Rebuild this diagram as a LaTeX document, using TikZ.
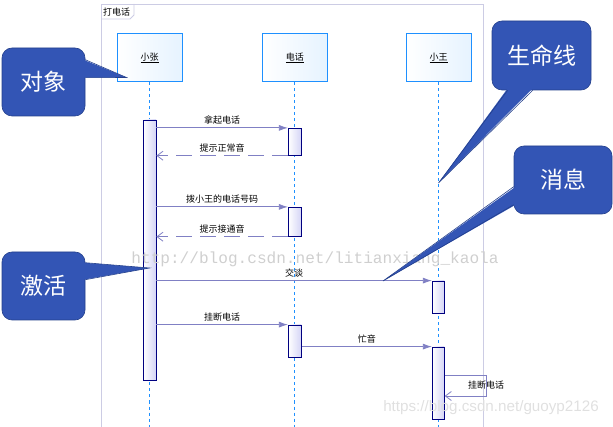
\documentclass[tikz,border=0pt]{standalone}
\usepackage{fontspec}
\newfontfamily\cjk{Noto Sans CJK SC}
\newfontfamily\wmmono{Liberation Mono}
\newfontfamily\wmsans{Liberation Sans}
\usetikzlibrary{arrows.meta,positioning}

\definecolor{lifeblue}{HTML}{1E90FF}
\definecolor{msgline}{HTML}{8080C4}
\definecolor{actborder}{HTML}{000080}
\definecolor{actfill}{HTML}{D4D4F6}
\definecolor{headfill}{HTML}{E6F3FF}
\definecolor{bubblefill}{HTML}{3355B5}
\definecolor{bubbleedge}{HTML}{24408C}
\definecolor{framegray}{HTML}{CCCCE4}

\begin{document}
\begin{tikzpicture}[
  x=1pt, y=-1pt,
  >={Latex[length=9pt,width=6pt]},
  font=\cjk\fontsize{9}{10}\selectfont,
  head/.style={draw=lifeblue, line width=1pt, left color=white, right color=headfill,
    minimum width=65pt, minimum height=48pt, inner sep=0pt},
  act/.style={draw=actborder, line width=0.8pt, left color=white, right color=actfill,
    minimum width=13pt, inner sep=0pt},
  lifeline/.style={draw=lifeblue, line width=0.8pt, dash pattern=on 3pt off 3pt},
  call/.style={->, draw=msgline, line width=0.8pt},
  reply/.style={-{Straight Barb[length=6pt,width=9pt]}, draw=msgline, line width=0.8pt,
    dash pattern=on 16pt off 8pt},
  msglabel/.style={above=2pt, inner sep=1pt},
  bubble/.style={fill=bubblefill, draw=bubbleedge, line width=0.6pt, rounded corners=10pt,
    text=white, font=\cjk\fontsize{23}{25}\selectfont, minimum width=83pt,
    minimum height=68pt, inner sep=0pt},
  tail/.style={fill=bubblefill},
  tailedge/.style={draw=bubbleedge, line width=0.6pt}
]
\useasboundingbox (0,0) rectangle (613,427);
\coordinate (bottom) at (0,427);

% Frame
\draw[framegray, line width=0.8pt] (101,427) -- (101,4) -- (483,4) -- (483,427);
\draw[framegray, line width=0.8pt] (101,19) -- (130,19) -- (134,15) -- (134,4);
\node[anchor=west, inner sep=0pt] (title) at (103,12) {打电话};

% Lifelines
\node[head] (zhang) at (149.5,58) {\underline{小张}};
\node[head] (phone) at (294.8,58) {\underline{电话}};
\node[head] (wang) at (438.5,58) {\underline{小王}};
\foreach \n in {zhang,phone,wang}
  \draw[lifeline] (\n.south) -- (\n.south |- bottom);

% Activations
\node[act, minimum height=260pt] (za) at (149.5,250) {};
\node[act, minimum height=27pt] (pa1) at (294.8,141.8) {};
\node[act, minimum height=29pt] (pa2) at (294.8,221.8) {};
\node[act, minimum height=32pt] (pa3) at (294.8,341) {};
\node[act, minimum width=12pt, minimum height=32pt] (wa1) at (438.3,297) {};
\node[act, minimum width=12pt, minimum height=72pt] (wa2) at (438.3,383) {};

% Messages
\draw[call] (za.east |- pa1.north) -- node[msglabel] {拿起电话} (pa1.north west);
\draw[reply] (pa1.south west) -- node[msglabel] {提示正常音} (za.east |- pa1.south);
\draw[call] (za.east |- pa2.north) -- node[msglabel] {拨小王的电话号码} (pa2.north west);
\draw[reply] (pa2.south west) -- node[msglabel] {提示接通音} (za.east |- pa2.south);
\draw[call] (za.east |- wa1.north) -- node[msglabel] {交谈} (wa1.north west);
\draw[call] (za.east |- pa3.north) -- node[msglabel] {挂断电话} (pa3.north west);
\draw[call] (pa3.east |- wa2.north) -- node[msglabel] {忙音} (wa2.north west);

% Self message
\coordinate (loopa) at (486,375);
\coordinate (loopb) at (486,396);
\draw[draw=msgline, line width=0.8pt, -{Straight Barb[length=6pt,width=9pt]}]
  (wa2.east |- loopa) -- (loopa) -- node[inner sep=0pt] (selflabel) {挂断电话} (loopb)
  -- (wa2.east |- loopb);

% Watermarks
\node[text=black!19, font=\wmmono\fontsize{16.1}{17}\selectfont] (wm1) at (315,259)
  {http://blog.csdn.net/litianxiang\_kaola};
\node[text=black!12, font=\wmsans\fontsize{15.2}{17}\selectfont] (wm2) at (491,408)
  {https://blog.csdn.net/guoyp2126};

% Callouts
\coordinate (objtip) at ([xshift=10pt,yshift=5pt]zhang.south west);
\coordinate (acttip) at (za.center |- 0,268);
\coordinate (lifetip) at (wang.south |- 0,183);
\coordinate (msgtip) at (383,281);

\node[bubble] (objbub) at (43.5,82) {对象};
\fill[tail] ([xshift=-2pt,yshift=-12pt]objbub.north east) -- (objtip)
  -- ([xshift=-2pt,yshift=-30pt]objbub.north east) -- cycle;
\draw[tailedge] ([yshift=-12pt]objbub.north east) -- (objtip) -- ([yshift=-30pt]objbub.north east);

\node[bubble] (actbub) at (43.5,286) {激活};
\fill[tail] ([xshift=-2pt,yshift=-11pt]actbub.north east) -- (acttip)
  -- ([xshift=-2pt,yshift=-28pt]actbub.north east) -- cycle;
\draw[tailedge] ([yshift=-11pt]actbub.north east) -- (acttip) -- ([yshift=-28pt]actbub.north east);

\node[bubble, minimum width=99pt, minimum height=69pt] (lifebub) at (541.5,55.5) {生命线};
\fill[tail] ([xshift=16pt,yshift=2pt]lifebub.south west) -- (lifetip)
  -- ([xshift=41pt,yshift=2pt]lifebub.south west) -- cycle;
\draw[tailedge] ([xshift=16pt]lifebub.south west) -- (lifetip) -- ([xshift=41pt]lifebub.south west);

\node[bubble, minimum width=98pt] (msgbub) at (563,180) {消息};
\fill[tail] ([xshift=2pt,yshift=-41pt]msgbub.north west) -- (msgtip)
  -- ([xshift=2pt,yshift=-59pt]msgbub.north west) -- cycle;
\draw[tailedge] ([yshift=-41pt]msgbub.north west) -- (msgtip) -- ([yshift=-59pt]msgbub.north west);

\end{tikzpicture}
\end{document}
